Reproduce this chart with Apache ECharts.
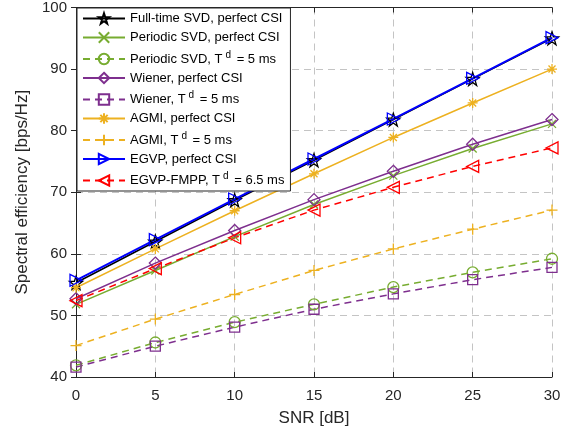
<!DOCTYPE html>
<html><head><meta charset="utf-8">
<script src="https://cdn.jsdelivr.net/npm/echarts@6/dist/echarts.min.js"></script>
<style>html,body{margin:0;padding:0;background:#fff}#c{width:574px;height:438px}</style>
</head><body><div id="c"></div>
<script>
const snr = [0, 5, 10, 15, 20, 25, 30];
const xTicks = [0, 5, 10, 15, 20, 25, 30];
const yTicks = [40, 50, 60, 70, 80, 90, 100];
const fullSVD = [55.3, 62.0, 68.7, 75.2, 81.8, 88.4, 95.0];
const periodicSVD = [51.8, 57.3, 62.8, 68.0, 72.7, 77.1, 81.1];
const periodicSVD5 = [41.9, 45.6, 48.9, 51.8, 54.6, 57.0, 59.2];
const wiener = [52.7, 58.5, 63.8, 68.8, 73.4, 77.8, 81.8];
const wiener5 = [41.6, 45.0, 48.1, 51.0, 53.5, 55.8, 57.8];
const agmi = [54.5, 60.8, 67.0, 73.0, 78.9, 84.5, 90.0];
const agmi5 = [45.1, 49.4, 53.4, 57.3, 60.8, 64.0, 67.1];
const egvp = [55.7, 62.3, 68.9, 75.4, 81.9, 88.5, 95.1];
const egvpFmpp = [52.4, 57.6, 62.6, 67.1, 70.8, 74.2, 77.2];

const C = {k:'#000000', g:'#77AC30', p:'#7E2F8E', y:'#EDB120', b:'#0000FF', r:'#FF0000'};
const SYM = {
  star: 'path://M50,0 L61.8,35.1 L98.1,35.1 L68.8,57 L79.4,91 L50,70 L20.6,91 L31.2,57 L1.9,35.1 L38.2,35.1 Z',
  x: 'path://M0,0 L10,10 M10,0 L0,10',
  circle: 'path://M10,5 A5,5 0 1 1 0,5 A5,5 0 1 1 10,5 Z',
  diamond: 'path://M5,0 L10,5 L5,10 L0,5 Z',
  square: 'path://M0,0 L10,0 L10,10 L0,10 Z',
  asterisk: 'path://M5,0 L5,10 M0,5 L10,5 M1.5,1.5 L8.5,8.5 M8.5,1.5 L1.5,8.5',
  plus: 'path://M5,0 L5,10 M0,5 L10,5',
  triR: 'path://M0,0 L10,5 L0,10 Z',
  triL: 'path://M10,0 L0,5 L10,10 Z'
};
const names = [
  'Full-time SVD, perfect CSI',
  'Periodic SVD, perfect CSI',
  'Periodic SVD, T^d = 5 ms',
  'Wiener, perfect CSI',
  'Wiener, T^d = 5 ms',
  'AGMI, perfect CSI',
  'AGMI, T^d = 5 ms',
  'EGVP, perfect CSI',
  'EGVP-FMPP, T^d = 6.5 ms'
];
function mk(name, data, col, dashed, sym, size, w) {
  return {
    name, type:'line', data: snr.map((x,i)=>[x,data[i]]),
    symbol: sym, symbolSize: size, showSymbol: true,
    lineStyle: {color: col, width: w || 1.5, type: dashed ? [7,5] : 'solid'},
    itemStyle: {color: 'rgba(255,255,255,0)', borderColor: col, borderWidth: 1.3},
    color: col, animation: false, emphasis: {disabled: true}
  };
}
const series = [
  mk(names[0], fullSVD, C.k, false, SYM.star, 13),
  mk(names[1], periodicSVD, C.g, false, SYM.x, 8),
  mk(names[2], periodicSVD5, C.g, true, SYM.circle, 11),
  mk(names[3], wiener, C.p, false, SYM.diamond, 12),
  mk(names[4], wiener5, C.p, true, SYM.square, 10),
  mk(names[5], agmi, C.y, false, SYM.asterisk, 10),
  mk(names[6], agmi5, C.y, true, SYM.plus, 11),
  mk(names[7], egvp, C.b, false, SYM.triR, 12, 2),
  mk(names[8], egvpFmpp, C.r, true, SYM.triL, 12)
];
const FONT = '"Liberation Sans", Arial, sans-serif';
const TXT = '#262626';
const chart = echarts.init(document.getElementById('c'), null, {renderer:'canvas'});
const axisCommon = {
  axisLine: {show: true, lineStyle: {color: TXT, width: 1}},
  axisTick: {show: true, inside: true, length: 5, lineStyle: {color: TXT}},
};
chart.setOption({
  animation: false,
  backgroundColor: '#fff',
  grid: {left: 76, right: 22, top: 7, bottom: 61},
  legend: {
    orient: 'vertical', left: 77, top: 8, data: names,
    backgroundColor: '#fff', borderColor: TXT, borderWidth: 1,
    padding: [4, 6, 4, 5], itemWidth: 42, itemHeight: 13, itemGap: 6,
    selectedMode: false,
    textStyle: {fontFamily: FONT, fontSize: 13, color: '#000',
      rich: {
        n: {fontFamily: FONT, fontSize: 13, color: '#000'},
        s: {fontFamily: FONT, fontSize: 10, color: '#000', padding: [0, 2, 8, 3]}
      }},
    formatter: function (nm) {
      if (nm.indexOf('^d') < 0) return '{n|' + nm + '}';
      const parts = nm.split('^d');
      return '{n|' + parts[0] + '}{s|d}{n|' + parts[1] + '}';
    }
  },
  xAxis: [
    Object.assign({type:'value', min: 0, max: 30, interval: 5, position:'bottom',
      name: 'SNR [dB]', nameLocation: 'middle', nameGap: 33,
      nameTextStyle: {fontFamily: FONT, fontSize: 17, color: TXT},
      axisLabel: {fontFamily: FONT, fontSize: 15, color: TXT, margin: 11,
        formatter: v => xTicks.indexOf(v) >= 0 ? String(v) : ''},
      splitLine: {show: true, lineStyle: {color: '#c4c4c4', type: [7,5], width: 1}}
    }, axisCommon),
    Object.assign({type:'value', min: 0, max: 30, interval: 5, position:'top',
      axisLabel: {show: false}, splitLine: {show: false}}, axisCommon)
  ],
  yAxis: [
    Object.assign({type:'value', min: 40, max: 100, interval: 10, position:'left',
      name: 'Spectral efficiency [bps/Hz]', nameLocation: 'middle', nameGap: 42,
      nameTextStyle: {fontFamily: FONT, fontSize: 17, color: TXT},
      axisLabel: {fontFamily: FONT, fontSize: 15, color: TXT, margin: 9,
        formatter: v => yTicks.indexOf(v) >= 0 ? String(v) : ''},
      splitLine: {show: true, lineStyle: {color: '#c4c4c4', type: [7,5], width: 1}}
    }, axisCommon),
    Object.assign({type:'value', min: 40, max: 100, interval: 10, position:'right',
      axisLabel: {show: false}, splitLine: {show: false}}, axisCommon)
  ],
  series: series
});
</script></body></html>
